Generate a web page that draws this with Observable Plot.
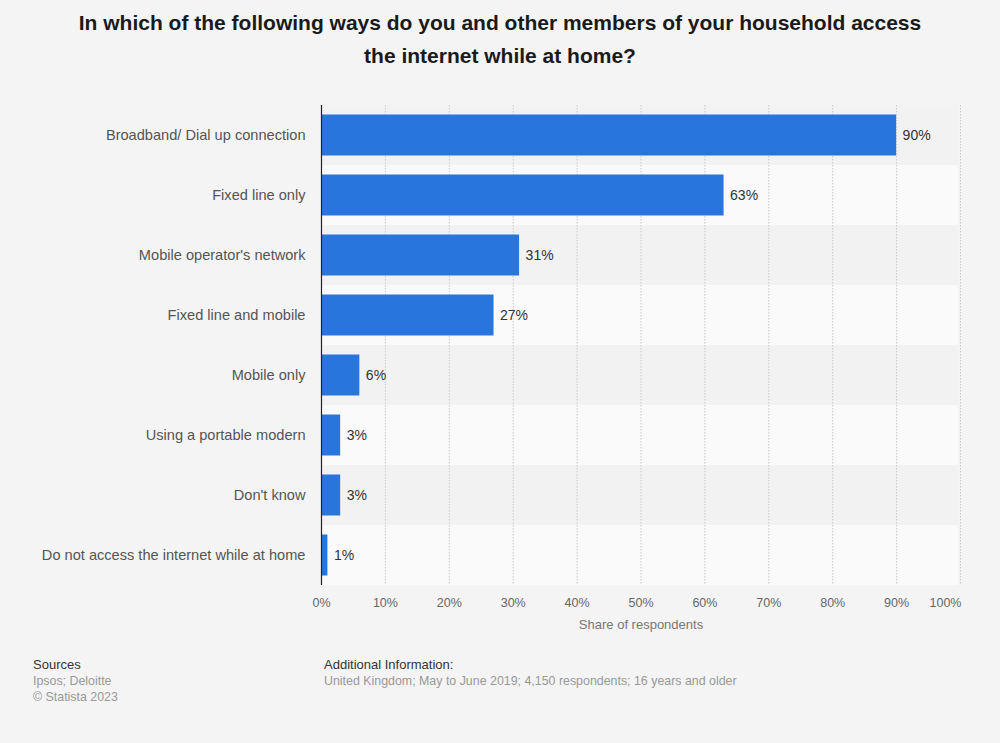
<!DOCTYPE html>
<html>
<head>
<meta charset="utf-8">
<script src="https://cdn.jsdelivr.net/npm/d3@7"></script>
<script src="https://cdn.jsdelivr.net/npm/@observablehq/plot@0.6"></script>
<style>
  html, body { margin: 0; padding: 0; background: #f4f4f4; }
  body { width: 1000px; height: 743px; position: relative; overflow: hidden; font-family: "Liberation Sans", Arial, sans-serif; }
  #title { position: absolute; left: 0; top: 6px; width: 1000px; text-align: center; font-weight: bold; font-size: 21px; line-height: 33px; color: #1a1a1a; }
  #chart { position: absolute; left: 0; top: 0; }
  .foot { position: absolute; font-size: 12.4px; line-height: 16px; color: #999; }
  .foot .h { color: #333; font-size: 13px; }
</style>
</head>
<body>
<div id="title">In which of the following ways do you and other members of your household access<br>the internet while at home?</div>
<div id="chart"></div>
<div class="foot" style="left:33px; top:657px;"><div class="h">Sources</div><div>Ipsos; Deloitte</div><div>© Statista 2023</div></div>
<div class="foot" style="left:324px; top:657px;"><div class="h">Additional Information:</div><div>United Kingdom; May to June 2019; 4,150 respondents; 16 years and older</div></div>
<script>
const categories = [
  "Broadband/ Dial up connection",
  "Fixed line only",
  "Mobile operator's network",
  "Fixed line and mobile",
  "Mobile only",
  "Using a portable modern",
  "Don't know",
  "Do not access the internet while at home"
];
const values = [90, 63, 31, 27, 6, 3, 3, 1];
const xTicks = [0, 10, 20, 30, 40, 50, 60, 70, 80, 90, 100];

const data = categories.map((c, i) => ({category: c, value: values[i], idx: i}));

const chart = Plot.plot({
  width: 1000,
  height: 650,
  marginLeft: 321,
  marginRight: 40,
  marginTop: 105,
  marginBottom: 65,
  style: {background: "transparent", fontFamily: "'Liberation Sans', Arial, sans-serif"},
  x: {domain: [0, 100], ticks: xTicks, label: null},
  y: {domain: categories, padding: 0, label: null},
  marks: [
    Plot.barX(data, {y: "category", x1: 0, x2: 100, fill: d => d.idx % 2 ? "#fafafa" : "#f2f2f2", insetRight: 2}),
    Plot.ruleX(xTicks, {x: d => d, stroke: "#c8c8c8", strokeDasharray: "1.5,1.5", strokeWidth: 1}),
    Plot.barX(data, {y: "category", x: "value", fill: "#2876dd", insetTop: 9.5, insetBottom: 9.5}),
    Plot.text(data, {y: "category", x: "value", text: d => d.value + "%", dx: 6, textAnchor: "start", fontSize: 14, fill: "#333"}),
    Plot.ruleX([0], {stroke: "#222", strokeWidth: 1.2}),
    Plot.axisY({tickSize: 0, tickPadding: 16, fontSize: 14.6, color: "#555", label: null}),
    Plot.axisX(xTicks.slice(0, -1), {tickSize: 0, tickPadding: 13, fontSize: 12.5, color: "#666", tickFormat: d => d + "%", label: null}),
    Plot.text(xTicks.slice(-1), {x: d => d, frameAnchor: "bottom", dy: 13, dx: -15, lineAnchor: "top", text: d => d + "%", fontSize: 12.5, fill: "#666"}),
    Plot.text(["Share of respondents"], {frameAnchor: "bottom", dy: 43, fontSize: 13, fill: "#777"})
  ]
});
document.getElementById("chart").appendChild(chart);
</script>
</body>
</html>
